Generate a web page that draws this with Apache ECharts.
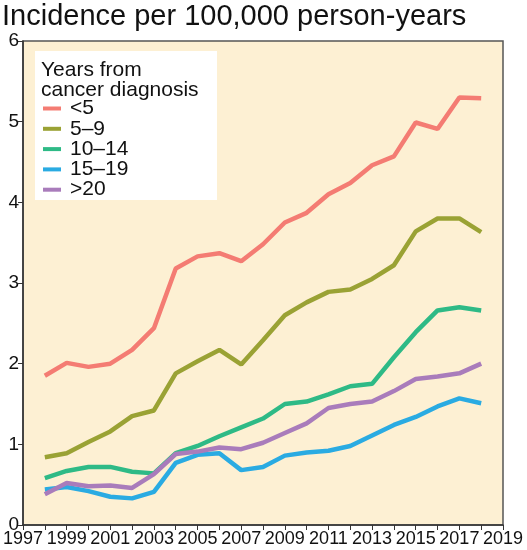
<!DOCTYPE html>
<html><head><meta charset="utf-8">
<script src="https://cdn.jsdelivr.net/npm/echarts@6/dist/echarts.min.js"></script>
<style>html,body{margin:0;padding:0;background:#fff}#c{width:527px;height:550px}</style>
</head><body><div id="c"></div>
<script>
const years = [1998,1999,2000,2001,2002,2003,2004,2005,2006,2007,2008,2009,2010,2011,2012,2013,2014,2015,2016,2017,2018];
const seriesNames = ['<5','5\u20139','10\u201314','15\u201319','>20'];
const lt5   = [1.85,2.01,1.96,2.00,2.17,2.44,3.18,3.33,3.37,3.27,3.48,3.75,3.87,4.10,4.24,4.46,4.57,4.99,4.91,5.30,5.29];
const y5to9 = [0.84,0.89,1.03,1.16,1.35,1.42,1.88,2.03,2.17,1.99,2.29,2.60,2.76,2.89,2.92,3.05,3.22,3.64,3.80,3.80,3.63];
const y10to14 = [0.58,0.67,0.72,0.72,0.66,0.64,0.89,0.98,1.10,1.21,1.32,1.50,1.53,1.62,1.72,1.75,2.08,2.39,2.66,2.70,2.66];
const y15to19 = [0.44,0.47,0.42,0.35,0.33,0.41,0.77,0.87,0.89,0.68,0.72,0.86,0.90,0.92,0.98,1.11,1.24,1.34,1.47,1.57,1.51];
const gt20  = [0.38,0.52,0.48,0.49,0.46,0.63,0.88,0.91,0.96,0.94,1.02,1.14,1.26,1.45,1.50,1.53,1.66,1.81,1.84,1.88,2.00];
const colors = ['#F47C73','#9AA234','#2EBA86','#2AABE2','#A97CBB'];
const allData = [lt5,y5to9,y10to14,y15to19,gt20];

const chart = echarts.init(document.getElementById('c'));
const FONT = 'Liberation Sans, Arial, sans-serif';
chart.setOption({
  animation:false,
  textStyle:{fontFamily:FONT},
  title:{text:'Incidence per 100,000 person-years',left:-3,top:-3,
    textStyle:{fontSize:29,fontWeight:'normal',color:'#111',fontFamily:FONT}},
  grid:{left:22,right:24,top:41,bottom:25,show:true,backgroundColor:'#FDF0D3',borderColor:'#555',borderWidth:1.5},
  xAxis:{type:'value',min:1997,max:2019,interval:1,
    axisLine:{lineStyle:{color:'#333',width:1.5}},
    axisTick:{show:true,length:5,lineStyle:{color:'#333'}},
    splitLine:{show:false},
    axisLabel:{fontSize:18,color:'#111',margin:5,fontFamily:FONT,
      formatter:v=>(v%2===1?String(v):'')}},
  yAxis:{type:'value',min:0,max:6,interval:1,
    axisLine:{show:true,lineStyle:{color:'#333',width:1.5}},
    axisTick:{show:true,length:5,lineStyle:{color:'#333'}},
    splitLine:{show:false},
    axisLabel:{fontSize:19,color:'#111',margin:4,fontFamily:FONT}},
  graphic:[
    {type:'rect',shape:{x:35,y:51,width:182,height:149},style:{fill:'#fff'},z:10},
    {type:'text',x:41,y:60,z:11,style:{text:'Years from\ncancer diagnosis',fontSize:21,lineHeight:20,fill:'#111',fontFamily:FONT}}
  ],
  legend:{orient:'vertical',left:38,top:93,itemWidth:18,itemHeight:4,itemGap:-0.7,icon:'rect',z:12,
    textStyle:{fontSize:21,color:'#111',fontFamily:FONT,padding:[0,0,0,4]},
    data:seriesNames},
  series:seriesNames.map((n,i)=>({
    name:n,type:'line',showSymbol:false,symbol:'none',
    lineStyle:{width:4.5,color:colors[i]},itemStyle:{color:colors[i]},
    data:years.map((y,j)=>[y,allData[i][j]])
  }))
});
</script></body></html>
